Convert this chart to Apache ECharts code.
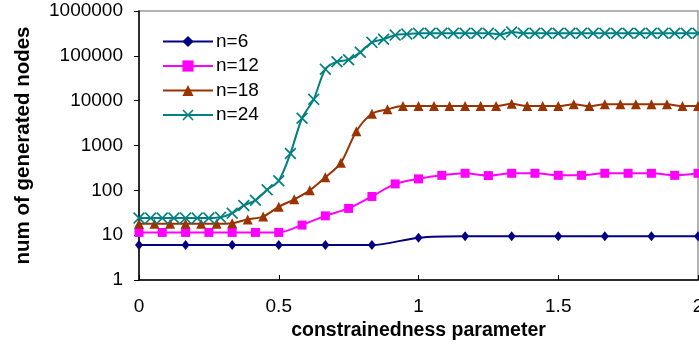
<!DOCTYPE html>
<html lang="en">
<head>
    <meta charset="utf-8">
    <title>num of generated nodes</title>
    <script src="https://cdn.jsdelivr.net/npm/echarts@6/dist/echarts.min.js"></script>
    <style>
        html, body { margin: 0; padding: 0; background: #fff; }
        #chart { width: 699px; height: 360px; }
    </style>
</head>
<body>
    <div id="chart"></div>
    <script type="text/javascript">
        // x positions are k/n for k = 0..2n
        var n6 = [6, 6, 6, 6, 6, 6, 8.8, 9.5, 9.5, 9.5, 9.5, 9.5, 9.5];
        var n12 = [11.5, 11.5, 11.5, 11.5, 11.5, 11.5, 11.5, 16.8, 27, 39.5, 73, 139, 180,
            216, 240, 213, 240, 240, 216, 216, 240, 240, 240, 216, 240];
        var n18 = [18, 18, 18, 18, 18, 18, 18.5, 22.5, 26, 43, 63, 100, 195, 410, 2080, 5100, 6400,
            7600, 7600, 7600, 7600, 7600, 7600, 7600, 8500, 7600, 7600, 7600, 8300, 7600,
            8300, 8300, 8300, 8300, 8300, 7600, 7600];
        var n24 = [24, 24, 24, 24, 24, 24, 24, 25, 31, 46, 60, 103, 163, 662, 4050, 10700, 50400,
            74000, 82000, 120000, 200000, 235000, 290000, 305000,
            320000, 320000, 320000, 320000, 320000, 320000, 320000, 300000, 340000, 320000,
            320000, 320000, 320000, 320000, 320000, 320000, 320000, 320000, 320000, 320000,
            320000, 320000, 320000, 320000, 320000];
        var seriesNames = ["n=6", "n=12", "n=18", "n=24"];
        var seriesColors = ["#000080", "#ff00ff", "#993300", "#008080"];
        var xTicks = [0, 0.5, 1, 1.5, 2];
        var yTicks = [1, 10, 100, 1000, 10000, 100000, 1000000];

        function toPairs(vals, n) {
            return vals.map(function (v, k) { return [k / n, v]; });
        }

        var crossPath = "path://M0,1 L1,0 L5,4 L9,0 L10,1 L6,5 L10,9 L9,10 L5,6 L1,10 L0,9 L4,5 Z";
        var symbols = ["diamond", "rect", "triangle", crossPath];
        var sizes = [[8, 10], 9, 10, 12];
        var datas = [toPairs(n6, 6), toPairs(n12, 12), toPairs(n18, 18), toPairs(n24, 24)];

        var mychart = echarts.init(document.getElementById("chart"));
        var option = {
            backgroundColor: "#fff",
            animation: false,
            color: seriesColors,
            textStyle: { fontFamily: "Liberation Sans, Arial, sans-serif", color: "#000" },
            grid: {
                show: true,
                left: 139,
                right: 1,
                top: 11,
                bottom: 80,
                borderColor: "#999",
                borderWidth: 1.5,
                containLabel: false,
                outerBoundsMode: "none"
            },
            legend: {
                orient: "vertical",
                left: 157,
                top: 27,
                itemWidth: 50,
                itemHeight: 14,
                itemGap: 5.5,
                textStyle: { fontSize: 19, color: "#000", padding: [0, 0, 0, -2] },
                data: seriesNames
            },
            xAxis: {
                type: "value",
                min: xTicks[0],
                max: xTicks[xTicks.length - 1],
                interval: 0.5,
                name: "constrainedness parameter",
                nameLocation: "middle",
                nameGap: 27,
                nameTextStyle: { fontSize: 19.5, fontWeight: "bold", color: "#000" },
                axisLine: { lineStyle: { color: "#000", width: 1.5 } },
                axisTick: { inside: true, length: 5, lineStyle: { color: "#000" } },
                axisLabel: { fontSize: 19, color: "#000", margin: 17 },
                splitLine: { show: false }
            },
            yAxis: {
                type: "log",
                logBase: 10,
                min: yTicks[0],
                max: yTicks[yTicks.length - 1],
                name: "num of generated nodes",
                nameLocation: "middle",
                nameGap: 105,
                nameTextStyle: { fontSize: 20.5, fontWeight: "bold", color: "#000" },
                axisLine: { show: true, lineStyle: { color: "#000", width: 1.5 } },
                axisTick: { show: true, length: 5, lineStyle: { color: "#000" } },
                axisLabel: {
                    fontSize: 19, color: "#000", margin: 16,
                    formatter: function (v) { return String(Math.round(v)); }
                },
                splitLine: { show: false }
            },
            series: seriesNames.map(function (name, idx) {
                return {
                    name: name,
                    type: "line",
                    smooth: 0.3,
                    data: datas[idx],
                    symbol: symbols[idx],
                    symbolSize: sizes[idx],
                    showAllSymbol: true,
                    clip: false,
                    lineStyle: { width: 2, color: seriesColors[idx] },
                    itemStyle: { color: seriesColors[idx] }
                };
            })
        };
        mychart.setOption(option);
    </script>
</body>
</html>
